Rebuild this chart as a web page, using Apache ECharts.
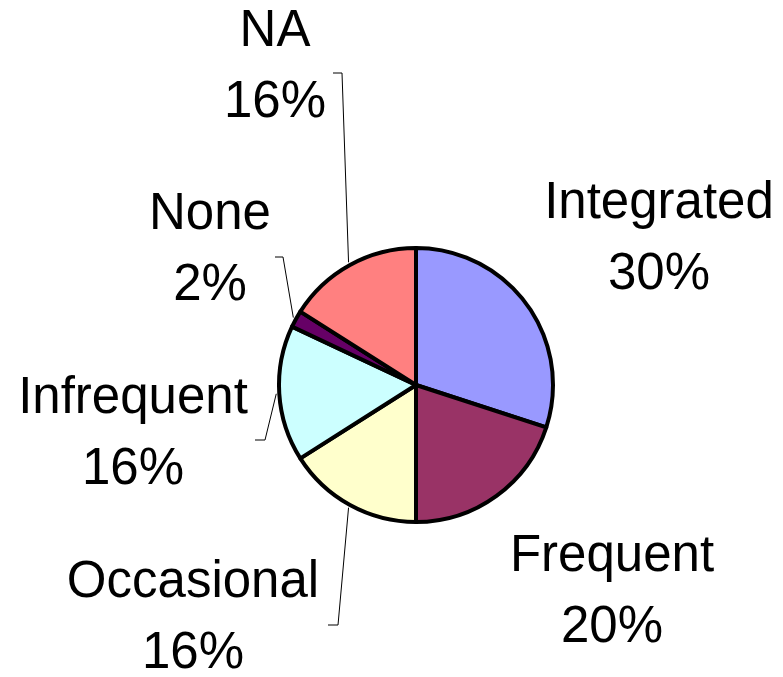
<!DOCTYPE html>
<html>
<head>
<meta charset="utf-8">
<script src="https://cdn.jsdelivr.net/npm/echarts@6/dist/echarts.min.js"></script>
<style>html,body{margin:0;padding:0;background:#fff}#c{width:783px;height:677px}</style>
</head>
<body>
<div id="c"></div>
<script>
// Data
const categories = ['Integrated', 'Frequent', 'Occasional', 'Infrequent', 'None', 'NA'];
const values = [30, 20, 16, 16, 2, 16];
const colors = ['#9999FF', '#993366', '#FFFFCC', '#CCFFFF', '#660066', '#FF8080'];

// Layout (pixels)
const CX = 416, CY = 385, R = 137;
// label block centres relative to pie centre
const labelOffsets = [[243, -146], [196, 207], [-223, 233], [-283, 49], [-206, -135], [-141, -318]];
// leader line elbow and end, relative to pie centre (null = no leader)
const leaderOffsets = [
  null,
  null,
  [[-78, 240], [-88, 240]],
  [[-151, 55], [-161, 55]],
  [[-133, -128], [-141, -128]],
  [[-74, -312], [-83, -312]]
];

const total = values.reduce((a, b) => a + b, 0);
function midAngle(i) {
  let cum = 0;
  for (let k = 0; k < i; k++) cum += values[k];
  const frac = (cum + values[i] / 2) / total;
  return frac * 2 * Math.PI; // clockwise from top
}

const chart = echarts.init(document.getElementById('c'), null, { renderer: 'canvas' });
chart.setOption({
  backgroundColor: '#ffffff',
  animation: false,
  series: [{
    type: 'pie',
    center: [CX, CY],
    radius: R,
    startAngle: 90,
    clockwise: true,
    percentPrecision: 0,
    avoidLabelOverlap: false,
    itemStyle: { borderColor: '#000', borderWidth: 4 },
    emphasis: { disabled: true },
    label: {
      show: true,
      formatter: '{b}\n{d}%',
      fontFamily: '"Liberation Sans", Arial, sans-serif',
      fontSize: 51,
      lineHeight: 71,
      color: '#000',
      align: 'center'
    },
    labelLine: { show: true, lineStyle: { color: '#000', width: 1 } },
    labelLayout: function (params) {
      const i = params.dataIndex;
      const o = labelOffsets[i];
      const res = { x: CX + o[0], y: CY + o[1], align: 'center', verticalAlign: 'middle' };
      const lo = leaderOffsets[i];
      if (lo) {
        const a = midAngle(i);
        const rr = R + 3;
        const start = [CX + rr * Math.sin(a), CY - rr * Math.cos(a)];
        res.labelLinePoints = [start, [CX + lo[0][0], CY + lo[0][1]], [CX + lo[1][0], CY + lo[1][1]]];
      }
      return res;
    },
    data: categories.map((name, i) => ({
      name: name,
      value: values[i],
      itemStyle: { color: colors[i] },
      labelLine: { show: !!leaderOffsets[i] }
    }))
  }]
});
</script>
</body>
</html>
